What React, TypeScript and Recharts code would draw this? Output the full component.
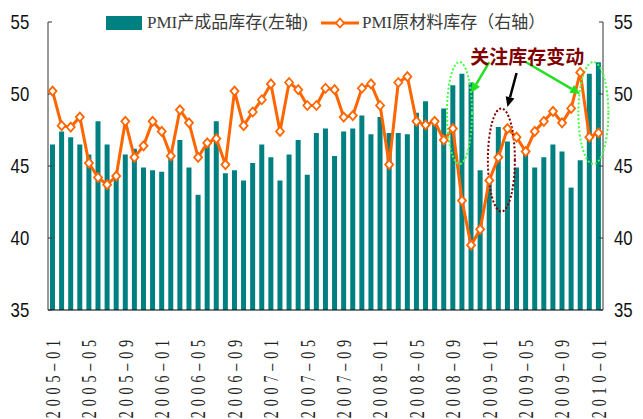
import {
  ComposedChart,
  Bar,
  Line,
  XAxis,
  YAxis,
  Legend,
  ReferenceDot,
  ReferenceLine
} from 'recharts'

// months 2005-01 .. 2010-01
const months: string[] = []
for (let y = 2005; y <= 2010; y++) {
  for (let m = 1; m <= 12; m++) {
    if (y === 2010 && m > 1) break
    months.push(`${y}-${String(m).padStart(2, '0')}`)
  }
}

// PMI产成品库存 (left axis, bars)
const finishedStock = [
  46.5, 47.4, 47.0, 46.5, 45.8, 48.1, 46.5, 44.3, 45.8, 46.2, 44.9, 44.7,
  44.6, 46.0, 46.8, 44.9, 43.0, 46.8, 48.1, 44.5, 44.7, 44.0, 45.2, 46.5,
  45.6, 44.0, 45.8, 46.8, 44.4, 47.3, 47.6, 45.7, 47.4, 47.6, 48.5, 47.2,
  48.4, 47.3, 47.3, 47.2, 48.7, 49.5, 48.3, 49.0, 50.6, 51.4, 50.8, 44.7,
  43.8, 47.7, 46.7, 44.9, 46.0, 44.9, 45.6, 46.5, 46.0, 43.5, 45.4, 51.4,
  52.2
]

// PMI原材料库存 (right axis, line)
const rawStock = [
  50.2, 47.8, 47.7, 48.4, 45.2, 44.2, 43.7, 44.3, 48.1, 45.6, 46.4, 48.1,
  47.4, 45.7, 48.9, 48.0, 45.6, 46.6, 46.9, 45.1, 50.2, 47.8, 48.75, 49.6,
  50.7, 47.4, 50.8, 50.3, 49.2, 49.2, 50.4, 50.3, 48.4, 48.5, 50.4, 50.7,
  49.2, 45.1, 50.8, 51.2, 48.1, 47.85, 48.1, 46.8, 47.6, 42.6, 39.5, 40.6,
  44.0, 45.6, 47.6, 47.0, 46.0, 47.4, 48.1, 48.8, 48.0, 49.0, 51.5, 47.0,
  47.3
]

const valueTicks = [35, 40, 45, 50, 55]

const data = months.map((month, i) => ({
  month,
  finished: finishedStock[i],
  raw: rawStock[i]
}))

const TEAL = '#008080'
const ORANGE = '#FF6600'
const GREEN = '#22E022'
const DOTGREEN = '#44FF44'
const DARKRED = '#800000'
const SERIF = "'Liberation Serif', 'Noto Sans CJK SC', serif"

function MonthTick({ x, y, payload }: any) {
  return (
    <text
      transform={`translate(${x + 1},${y + 17}) rotate(-90) scale(0.7,1)`}
      textAnchor="end"
      dominantBaseline="central"
      fontFamily={SERIF}
      fontSize={20}
      letterSpacing={7}
      fill="#222"
    >
      {String(payload.value).replace('-', '–')}
    </text>
  )
}

function ValueTick({ x, y, payload, textAnchor }: any) {
  return (
    <text
      transform={`translate(${x},${y}) scale(0.84,1)`}
      textAnchor={textAnchor}
      dominantBaseline="central"
      fontFamily="'Liberation Sans', Arial, sans-serif"
      fontSize={20}
      fill="#111"
    >
      {payload.value}
    </text>
  )
}

function DiamondDot({ cx, cy, index }: any) {
  if (cx == null || cy == null) return null
  return (
    <path
      key={index}
      d={`M${cx},${cy - 4.5} L${cx + 4},${cy} L${cx},${cy + 4.5} L${cx - 4},${cy} Z`}
      fill="#fff"
      stroke={ORANGE}
      strokeWidth={1.8}
    />
  )
}

function LegendContent() {
  const txt = { position: 'absolute' as const, top: 0, lineHeight: '26px', fontFamily: SERIF, fontSize: 17, color: '#3a3a3a', whiteSpace: 'nowrap' as const }
  return (
    <div style={{ position: 'relative', height: 26, width: 520 }}>
      <svg width={36} height={14} style={{ position: 'absolute', left: 0, top: 6 }}>
        <rect width={36} height={14} fill={TEAL} />
      </svg>
      <span style={{ ...txt, left: 41 }}>PMI产成品库存(左轴)</span>
      <svg width={38} height={14} style={{ position: 'absolute', left: 215, top: 6 }}>
        <line x1={0} y1={7} x2={38} y2={7} stroke={ORANGE} strokeWidth={3} />
        <path d="M19,2.5 L23,7 L19,11.5 L15,7 Z" fill="#fff" stroke={ORANGE} strokeWidth={1.8} />
      </svg>
      <span style={{ ...txt, left: 256 }}>PMI原材料库存（右轴）</span>
    </div>
  )
}

function ellipseShape(stroke: string, rx: number, ry: number, dx: number) {
  return (p: any) => (
    <ellipse
      cx={p.cx + dx}
      cy={p.cy}
      rx={rx}
      ry={ry}
      fill="none"
      stroke={stroke}
      strokeWidth={2}
      strokeDasharray="2 2"
    />
  )
}

function arrowShape(color: string) {
  return (p: any) => {
    const { x1, y1, x2, y2 } = p
    const a = Math.atan2(y2 - y1, x2 - x1)
    const len = 10
    const half = 4.5
    const bx = x2 - len * Math.cos(a)
    const by = y2 - len * Math.sin(a)
    const pts = `${x2},${y2} ${bx + half * Math.sin(a)},${by - half * Math.cos(a)} ${bx - half * Math.sin(a)},${by + half * Math.cos(a)}`
    return (
      <g>
        <line x1={x1} y1={y1} x2={bx} y2={by} stroke={color} strokeWidth={2.5} />
        <polygon points={pts} fill={color} />
      </g>
    )
  }
}

function noteText(p: any) {
  return (
    <text
      x={p.cx + 1.5}
      y={p.cy}
      textAnchor="middle"
      dominantBaseline="central"
      fontFamily="'Noto Sans CJK SC', sans-serif"
      fontWeight="bold"
      fontSize={19}
      fill={DARKRED}
    >
      关注库存变动
    </text>
  )
}

export default function App() {
  return (
    <div style={{ position: 'absolute', left: 0, top: 0, width: 643, height: 419, background: '#fff' }}>
      <ComposedChart
        width={643}
        height={419}
        data={data}
        margin={{ top: 22, right: 0, bottom: 0, left: 0 }}
      >
        <XAxis
          dataKey="month"
          interval={3}
          height={109}
          tickLine={false}
          axisLine={{ stroke: '#000' }}
          tick={<MonthTick />}
        />
        <YAxis
          yAxisId="left"
          orientation="left"
          width={48}
          domain={[35, 55]}
          ticks={valueTicks}
          allowDataOverflow
          tickSize={-4}
          tickMargin={22.7}
          tickLine={{ stroke: '#333' }}
          axisLine={{ stroke: '#333' }}
          tick={<ValueTick />}
        />
        <YAxis
          yAxisId="right"
          orientation="right"
          width={40}
          domain={[35, 55]}
          ticks={valueTicks}
          allowDataOverflow
          tickSize={-4}
          tickMargin={15}
          tickLine={{ stroke: '#333' }}
          axisLine={{ stroke: '#333' }}
          tick={<ValueTick />}
        />
        <Legend
          layout="vertical"
          verticalAlign="middle"
          align="center"
          wrapperStyle={{ top: 10, left: 106, width: 520, height: 26 }}
          content={<LegendContent />}
        />
        <Bar
          yAxisId="left"
          dataKey="finished"
          fill={TEAL}
          barSize={5}
          isAnimationActive={false}
        />
        <Line
          yAxisId="right"
          dataKey="raw"
          type="linear"
          stroke={ORANGE}
          strokeWidth={3}
          dot={<DiamondDot />}
          activeDot={false}
          isAnimationActive={false}
        />
        <ReferenceDot yAxisId="left" x={months[45]} y={48.68} r={0} shape={ellipseShape(DOTGREEN, 12.5, 51, -2.5)} />
        <ReferenceDot yAxisId="left" x={months[59]} y={48.68} r={0} shape={ellipseShape(DOTGREEN, 15, 51, 4)} />
        <ReferenceDot yAxisId="left" x={months[49]} y={45.42} r={0} shape={ellipseShape(DARKRED, 13.5, 51.5, 3)} />
        <ReferenceLine
          yAxisId="left"
          segment={[{ x: months[48], y: 52.22 }, { x: months[46], y: 50.07 }]}
          shape={arrowShape(GREEN)}
        />
        <ReferenceLine
          yAxisId="left"
          segment={[{ x: months[52], y: 52.22 }, { x: months[58], y: 50.0 }]}
          shape={arrowShape(GREEN)}
        />
        <ReferenceLine
          yAxisId="left"
          segment={[{ x: months[51], y: 51.46 }, { x: months[50], y: 49.1 }]}
          shape={arrowShape('#000')}
        />
        <ReferenceDot yAxisId="left" x={months[52]} y={52.64} r={0} shape={noteText} />
      </ComposedChart>
    </div>
  )
}
